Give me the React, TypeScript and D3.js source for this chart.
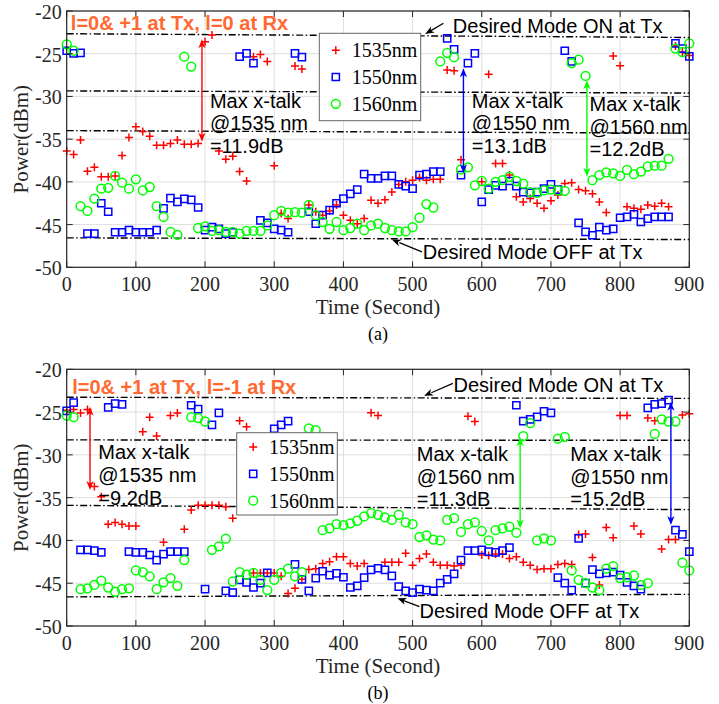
import React, { useEffect, useRef } from 'react';
import * as d3 from 'd3';

const W = 719;
const H = 704;
const PLOT_L = 66.7;
const PLOT_R = 689.3;

const SERIF = '"Liberation Serif", "Times New Roman", serif';
const SANS = '"Liberation Sans", Arial, sans-serif';

// sample times (s)
const timeSec = [0, 10, 20, 30, 40, 50, 60, 70, 80, 90, 100, 110, 120, 130, 140, 150, 160, 170, 180, 190,
  200, 210, 220, 230, 240, 250, 260, 270, 280, 290, 300, 310, 320, 330, 340, 350, 360, 370, 380, 390,
  400, 410, 420, 430, 440, 450, 460, 470, 480, 490, 500, 510, 520, 530, 540, 550, 560, 570, 580, 590,
  600, 610, 620, 630, 640, 650, 660, 670, 680, 690, 700, 710, 720, 730, 740, 750, 760, 770, 780, 790,
  800, 810, 820, 830, 840, 850, 860, 870, 880, 890, 900];

// (a) l=0 at Rx
const a1535 = [-36.4, -36.8, -35.1, -38.75, -38.3, -39.4, -39.4, -39.3, -36.9, -34.8,
  -33.55, -34.1, -34.65, -35.7, -35.7, -35.5, -35.1, -35.6, -35.6, -35.5,
  -23.6, -22.8, -36.4, -37.35, -37.0, -38.8, -39.9, -25.35, -25.1, -25.9,
  -38.1, -43.7, -44.3, -26.45, -26.8, -42.7, -43.5, -43.9, -43.4, -42.7,
  -43.9, -44.5, -44.9, -44.3, -42.15, -42.5, -42.1, -41.2, -40.3, -40.0,
  -39.8, -39.5, -39.8, -39.7, -39.7, -26.9, -27.0, -37.4, null, null,
  -40.0, -27.4, -37.85, -37.85, -39.2, -41.75, -42.35, -41.95, -42.5, -43.1,
  -42.2, -41.55, -40.2, -40.1, -40.9, -41.05, -41.4, -42.35, -43.6, -25.27,
  -26.4, -42.9, -43.1, -43.2, -42.7, -42.85, -42.5, -42.9, -24.1, -24.8,
  -25.2];
const a1550 = [-24.65, -24.96, -24.9, -46.05, -46.05, -42.5, -43.5, -45.9, -45.9, -45.66,
  -45.9, -45.9, -45.9, -45.66, -43.1, -41.9, -42.35, -42.0, -42.1, -43.0,
  -45.66, -45.3, -45.5, -46.05, -45.9, -25.35, -24.96, -26.1, -44.5, -44.8,
  -45.5, -45.66, -45.9, -24.96, -25.4, -43.5, -44.9, -43.9, -43.3, -42.5,
  -41.95, -41.4, -40.9, -39.1, -39.6, -39.6, -39.3, -39.3, -40.3, -40.5,
  -40.8, -39.2, -39.1, -38.8, -38.8, -23.2, -24.5, -39.2, -26.1, -24.96,
  -42.35, -40.9, -40.4, -40.5, -39.9, -40.5, -41.2, -41.3, -41.2, -40.8,
  -40.3, -40.9, -24.65, -25.9, -44.8, -45.86, -46.25, -45.3, -45.66, -45.5,
  -44.2, -44.1, -43.8, -44.7, -44.3, -44.1, -44.1, -44.1, -23.8, -24.4,
  -25.3];
const a1560 = [-23.9, -24.65, -42.85, -43.4, -41.95, -40.8, -40.7, -39.3, -40.1, -40.8,
  -39.7, -41.0, -40.6, -42.85, -44.1, -45.86, -46.2, -25.35, -26.5, -45.4,
  -45.2, -45.74, -45.66, -45.86, -45.86, -46.05, -45.74, -45.74, -45.74, -45.1,
  -43.9, -43.4, -43.6, -43.55, -43.6, -42.7, -43.9, -44.7, -45.5, -44.7,
  -45.66, -45.4, -44.9, -45.66, -45.1, -44.9, -45.4, -45.66, -45.8, -45.8,
  -45.3, -44.2, -42.6, -43.0, -25.9, -24.9, -25.4, -38.55, -38.3, -40.4,
  -39.9, -40.8, -40.0, -39.8, -39.4, -39.9, -40.2, -41.2, -41.3, -41.0,
  -40.9, -41.0, -41.05, -26.1, -25.7, -27.6, -39.8, -39.2, -38.9, -39.0,
  -39.3, -38.6, -39.1, -38.8, -38.2, -38.1, -38.1, -37.3, -24.4, -24.8,
  -23.8];

// (b) l=-1 at Rx
const b1535 = [-24.8, -24.7, -25.1, -24.7, -33.7, -34.9, -38.1, -37.9, -38.1, -38.3,
  -38.3, -27.3, -25.6, -27.8, -40.2, -25.4, -25.1, -38.7, -36.45, -35.9,
  -35.9, -35.9, -35.9, -36.05, -37.4, -26.0, -26.7, -43.8, -43.8, -43.8,
  -43.8, -44.2, -46.2, -45.6, -44.55, -43.4, -43.3, -42.7, -42.5, -41.9,
  -41.9, -42.7, -43.0, -42.7, -25.07, -25.4, -42.55, -42.55, -42.55, -41.5,
  -42.9, -42.1, -41.6, -42.55, -42.9, -42.9, -43.0, -42.9, -25.5, -26.1,
  -41.7, -41.75, -41.6, -41.6, -42.1, -41.9, -42.55, -42.9, -43.4, -43.3,
  -43.3, -42.8, -42.7, -42.8, -39.3, -39.25, -42.0, -45.2, -38.5, -39.7,
  -25.4, -25.4, -38.3, -39.25, -25.7, -26.0, -41.0, -39.9, -39.9, -25.35,
  -25.2];
const b1550 = [-24.85, -23.9, -41.1, -41.1, -41.2, -41.4, -24.45, -24.0, -24.1, -41.3,
  -41.4, -41.4, -41.7, -42.3, -41.6, -41.3, -41.3, -41.3, -24.2, -24.65,
  -45.7, -26.5, -25.1, -45.9, -46.1, -44.6, -44.9, -45.5, -45.0, -43.8,
  -26.95, -26.5, -26.05, -42.8, -44.55, -45.9, -44.4, -43.6, -44.05, -43.85,
  -44.3, -45.5, -45.3, -44.35, -43.45, -43.25, -43.45, -44.15, -45.4, -45.9,
  -46.1, -45.7, -45.8, -45.9, -45.0, -44.55, -43.9, -42.3, -41.2, -41.2,
  -41.1, -41.3, -41.4, -41.2, -40.85, -24.2, -26.05, -25.85, -25.55, -24.9,
  -25.1, -44.35, -45.0, -45.8, -39.75, -45.0, -43.4, -43.9, -43.8, -43.7,
  -44.05, -44.9, -45.3, -45.7, -24.5, -24.1, -24.0, -23.6, -38.8, -39.3,
  -41.3];
const b1560 = [-25.4, -25.6, -45.7, -45.6, -45.2, -44.7, -45.5, -46.0, -45.7, -45.6,
  -43.5, -43.7, -44.2, -45.7, -44.9, -44.4, -45.3, -42.3, -25.6, -25.7,
  -26.1, -41.1, -40.7, -39.8, -44.8, -43.7, -44.0, -43.8, -44.6, -45.8,
  -44.6, -43.8, -43.3, -44.2, -43.7, -26.9, -27.1, -38.8, -38.6, -38.1,
  -38.2, -38.0, -37.7, -37.2, -36.8, -37.0, -37.3, -37.6, -37.0, -37.9,
  -38.1, -39.6, -39.4, -39.9, -40.0, -37.6, -37.4, -39.0, -38.1, -37.9,
  -38.9, -40.0, -38.8, -38.6, -38.4, -39.1, -27.8, -26.3, -40.0, -39.75,
  -40.0, -28.1, -27.9, -43.5, -44.6, -45.0, -45.5, -45.8, -43.3, -43.0,
  -44.4, -44.3, -44.1, -45.2, -45.0, -27.55, -25.85, -26.1, -26.1, -42.6,
  -43.5];

const xTicks = [0, 100, 200, 300, 400, 500, 600, 700, 800, 900];
const yTicks = [-50, -45, -40, -35, -30, -25, -20];
const legendLabels = ['1535nm', '1550nm', '1560nm'];
const seriesColors = ['#ff0000', '#0000ff', '#00ff00'];

// dash-dot reference levels, dBm at t=0 and t=900
const refLinesA = [[-22.66, -23.1], [-29.35, -29.6], [-34.0, -34.3], [-46.55, -46.75]];
const refLinesB = [[-23.27, -23.4], [-28.25, -28.3], [-35.9, -36.4], [-46.6, -46.3]];

// crosstalk arrows: time, upper and lower dBm, series index, label anchor
const xtalkA = [
  { t: 195.5, hi: -23.3, lo: -35.3, c: 0, tx: 207, ty: -31.3, lines: ['Max x-talk', '@1535 nm', '=11.9dB'] },
  { t: 573.5, hi: -26.7, lo: -39.0, c: 1, tx: 585.7, ty: -31.3, lines: ['Max x-talk', '@1550 nm', '=13.1dB'] },
  { t: 752, hi: -28.1, lo: -39.4, c: 2, tx: 755.7, ty: -31.7, lines: ['Max x-talk', '@1560 nm', '=12.2dB'] },
];
const xtalkB = [
  { t: 33.7, hi: -24.37, lo: -34.1, c: 0, tx: 45.7, ty: -30.5, lines: ['Max x-talk', '@1535 nm', '=9.2dB'] },
  { t: 655.5, hi: -27.95, lo: -38.6, c: 2, tx: 506.1, ty: -30.72, lines: ['Max x-talk', '@1560 nm', '=11.3dB'] },
  { t: 873.4, hi: -23.8, lo: -38.2, c: 1, tx: 727.8, ty: -30.72, lines: ['Max x-talk', '@1550 nm', '=15.2dB'] },
];

// "Desired Mode" notes: text anchor and arrow (from -> to) in data units
const notesA = [
  { text: 'Desired Mode ON at Tx', tx: 558.2, ty: -22.58, from: [544.6, -21.44], to: [518.1, -22.7] },
  { text: 'Desired Mode OFF at Tx', tx: 514.8, ty: -49.06, from: [513.4, -48.2], to: [470, -46.75] },
];
const notesB = [
  { text: 'Desired Mode ON at Tx', tx: 559.1, ty: -22.62, from: [558.2, -21.64], to: [516.7, -23.1] },
  { text: 'Desired Mode OFF at Tx', tx: 509.9, ty: -49.06, from: [509.9, -47.74], to: [478.1, -46.76] },
];

const markerPaths = [
  'M-4,0H4M0,-4V4',
  'M-3.6,-3.6H3.6V3.6H-3.6Z',
  'M4.4,0A4.4,4.4 0 1,1 -4.4,0A4.4,4.4 0 1,1 4.4,0Z',
];

const panels = [
  {
    top: 11, bottom: 267.3, series: [a1535, a1550, a1560], refLines: refLinesA, xtalk: xtalkA, notes: notesA,
    title: 'l=0& +1 at Tx, l=0 at Rx', titleT: 6, titleV: -22.25,
    legend: { x: 319.3, y: 33.3, w: 101.4, h: 87.4 }, caption: '(a)',
  },
  {
    top: 369.3, bottom: 626, series: [b1535, b1550, b1560], refLines: refLinesB, xtalk: xtalkB, notes: notesB,
    title: 'l=0& +1 at Tx, l=-1 at Rx', titleT: 8, titleV: -22.9,
    legend: { x: 236.7, y: 432.7, w: 100.6, h: 82.3 }, caption: '(b)',
  },
];

function arrowHead(g: any, x: number, y: number, dx: number, dy: number, color: string) {
  const len = Math.hypot(dx, dy);
  const ux = dx / len, uy = dy / len;
  const L = 9, hw = 3.6;
  const bx = x - ux * L, by = y - uy * L;
  const nx = x - ux * L * 0.72, ny = y - uy * L * 0.72;
  g.append('path')
    .attr('d', `M${x},${y}L${bx - uy * hw},${by + ux * hw}L${nx},${ny}L${bx + uy * hw},${by - ux * hw}Z`)
    .attr('fill', color)
    .attr('stroke', 'none');
}

function drawPanel(svg: any, p: any) {
  const x = d3.scaleLinear().domain([0, 900]).range([PLOT_L, PLOT_R]);
  const y = d3.scaleLinear().domain([-50, -20]).range([p.bottom, p.top]);
  const g = svg.append('g');

  // grid
  g.append('g').selectAll('line').data(xTicks).join('line')
    .attr('x1', (d: number) => x(d)).attr('x2', (d: number) => x(d))
    .attr('y1', p.top).attr('y2', p.bottom)
    .attr('stroke', '#dedede').attr('stroke-width', 1);
  g.append('g').selectAll('line').data(yTicks).join('line')
    .attr('x1', PLOT_L).attr('x2', PLOT_R)
    .attr('y1', (d: number) => y(d)).attr('y2', (d: number) => y(d))
    .attr('stroke', '#dedede').attr('stroke-width', 1);

  // dash-dot reference levels
  g.append('g').selectAll('line').data(p.refLines).join('line')
    .attr('x1', x(0)).attr('x2', x(900))
    .attr('y1', (d: number[]) => y(d[0])).attr('y2', (d: number[]) => y(d[1]))
    .attr('stroke', '#000').attr('stroke-width', 1.4)
    .attr('stroke-dasharray', '7,2.5,1.5,2.5');

  // markers
  p.series.forEach((vals: (number | null)[], i: number) => {
    const pts = timeSec.map((t, k) => [t, vals[k]]).filter(d => d[1] != null) as number[][];
    g.append('g')
      .attr('fill', 'none').attr('stroke', seriesColors[i]).attr('stroke-width', 1.5)
      .selectAll('path').data(pts).join('path')
      .attr('transform', (d: number[]) => `translate(${x(d[0])},${y(d[1])})`)
      .attr('d', markerPaths[i]);
  });

  // frame and inward ticks
  g.append('rect')
    .attr('x', PLOT_L).attr('y', p.top)
    .attr('width', PLOT_R - PLOT_L).attr('height', p.bottom - p.top)
    .attr('fill', 'none').attr('stroke', '#262626').attr('stroke-width', 1.2);
  const tk = g.append('g').attr('stroke', '#262626').attr('stroke-width', 1);
  xTicks.forEach(t => {
    tk.append('line').attr('x1', x(t)).attr('x2', x(t)).attr('y1', p.bottom).attr('y2', p.bottom - 6);
    tk.append('line').attr('x1', x(t)).attr('x2', x(t)).attr('y1', p.top).attr('y2', p.top + 6);
  });
  yTicks.forEach(v => {
    tk.append('line').attr('x1', PLOT_L).attr('x2', PLOT_L + 6).attr('y1', y(v)).attr('y2', y(v));
    tk.append('line').attr('x1', PLOT_R).attr('x2', PLOT_R - 6).attr('y1', y(v)).attr('y2', y(v));
  });

  // tick labels
  g.append('g').selectAll('text').data(xTicks).join('text')
    .attr('x', (d: number) => x(d)).attr('y', p.bottom + 24)
    .attr('text-anchor', 'middle')
    .style('font-family', SERIF).style('font-size', '20px').attr('fill', '#262626')
    .text((d: number) => d);
  g.append('g').selectAll('text').data(yTicks).join('text')
    .attr('x', PLOT_L - 5).attr('y', (d: number) => y(d) + 8)
    .attr('text-anchor', 'end')
    .style('font-family', SERIF).style('font-size', '20px').attr('fill', '#262626')
    .text((d: number) => String(d));

  // axis titles and caption
  const midX = (PLOT_L + PLOT_R) / 2;
  g.append('text')
    .attr('x', midX).attr('y', p.bottom + 47)
    .attr('text-anchor', 'middle')
    .style('font-family', SERIF).style('font-size', '21px').attr('fill', '#262626')
    .text('Time (Second)');
  g.append('text')
    .attr('transform', `translate(28,${(p.top + p.bottom) / 2}) rotate(-90)`)
    .attr('text-anchor', 'middle')
    .style('font-family', SERIF).style('font-size', '21px').attr('fill', '#262626')
    .text('Power(dBm)');
  g.append('text')
    .attr('x', midX).attr('y', p.bottom + 73)
    .attr('text-anchor', 'middle')
    .style('font-family', SERIF).style('font-size', '18px').attr('fill', '#000')
    .text(p.caption);

  // crosstalk double arrows with labels
  p.xtalk.forEach((a: any) => {
    const col = seriesColors[a.c];
    const ax = x(a.t), y1 = y(a.hi), y2 = y(a.lo);
    g.append('line')
      .attr('x1', ax).attr('x2', ax).attr('y1', y1 + 4).attr('y2', y2 - 4)
      .attr('stroke', col).attr('stroke-width', 1.4);
    arrowHead(g, ax, y1, 0, -1, col);
    arrowHead(g, ax, y2, 0, 1, col);
    const txt = g.append('text')
      .style('font-family', SANS).style('font-size', '20px').attr('fill', '#000');
    a.lines.forEach((s: string, k: number) => {
      txt.append('tspan').attr('x', x(a.tx)).attr('y', y(a.ty) + k * 22.7).text(s);
    });
  });

  // desired mode notes
  p.notes.forEach((n: any) => {
    const fx = x(n.from[0]), fy = y(n.from[1]);
    const tx = x(n.to[0]), ty = y(n.to[1]);
    g.append('line')
      .attr('x1', fx).attr('y1', fy).attr('x2', tx + (fx - tx) * 0.25).attr('y2', ty + (fy - ty) * 0.25)
      .attr('stroke', '#000').attr('stroke-width', 1.2);
    arrowHead(g, tx, ty, tx - fx, ty - fy, '#000');
    g.append('text')
      .attr('x', x(n.tx)).attr('y', y(n.ty))
      .style('font-family', SANS).style('font-size', '20px').attr('fill', '#000')
      .text(n.text);
  });

  // legend
  const lg = g.append('g');
  lg.append('rect')
    .attr('x', p.legend.x).attr('y', p.legend.y)
    .attr('width', p.legend.w).attr('height', p.legend.h)
    .attr('fill', '#fff').attr('stroke', '#666').attr('stroke-width', 1);
  legendLabels.forEach((lab, i) => {
    const cy = p.legend.y + p.legend.h / 2 + (i - 1) * 26.8;
    lg.append('path')
      .attr('transform', `translate(${p.legend.x + 16.5},${cy})`)
      .attr('d', markerPaths[i])
      .attr('fill', 'none').attr('stroke', seriesColors[i]).attr('stroke-width', 1.5);
    lg.append('text')
      .attr('x', p.legend.x + 32.4).attr('y', cy + 7)
      .style('font-family', SERIF).style('font-size', '20px').attr('fill', '#000')
      .text(lab);
  });

  // title
  g.append('text')
    .attr('x', x(p.titleT)).attr('y', y(p.titleV))
    .style('font-family', SANS).style('font-size', '20px').style('font-weight', 'bold')
    .attr('fill', '#ff6a33')
    .text(p.title);
}

const App: React.FC = () => {
  const svgRef = useRef<SVGSVGElement>(null);

  useEffect(() => {
    if (!svgRef.current) return;
    const svg = d3.select(svgRef.current);
    svg.selectAll('*').remove();
    svg.append('rect').attr('width', W).attr('height', H).attr('fill', '#fff');
    panels.forEach(p => drawPanel(svg, p));
  }, []);

  return (
    <svg
      ref={svgRef}
      width={W}
      height={H}
      style={{ position: 'absolute', left: 0, top: 0, display: 'block' }}
    />
  );
};

export default App;
